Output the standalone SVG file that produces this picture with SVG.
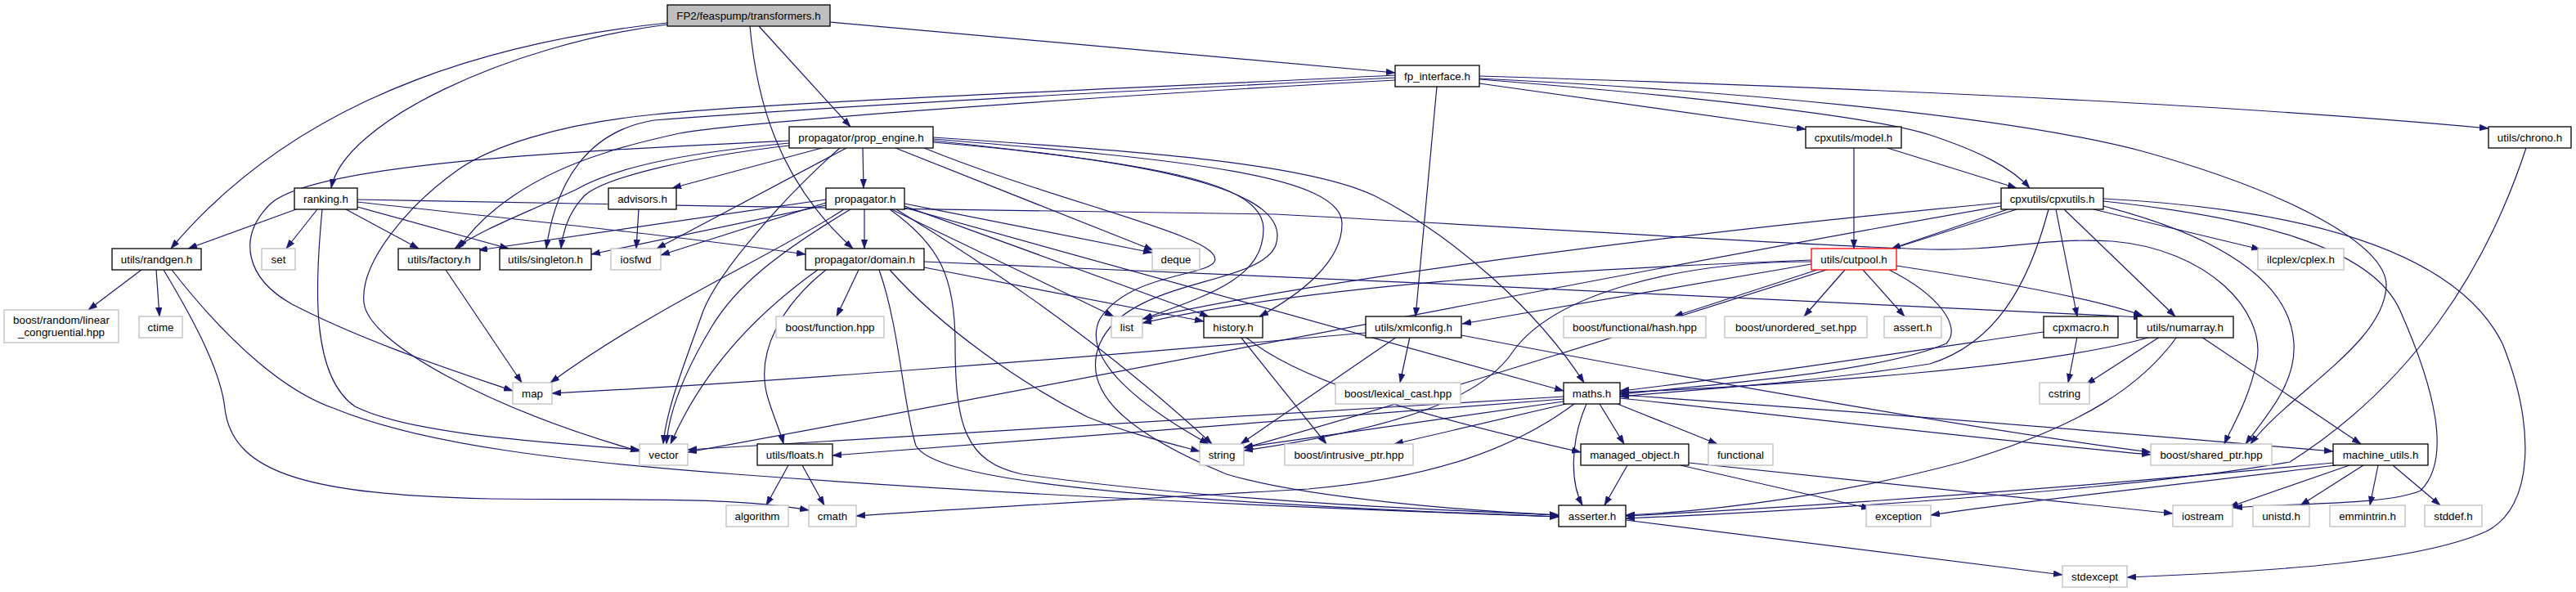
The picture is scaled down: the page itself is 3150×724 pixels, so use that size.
<svg xmlns="http://www.w3.org/2000/svg" width="3150" height="724" viewBox="0 0 3150 724">
<style>
.n rect{fill:#fff;stroke:#000;stroke-width:1.3}
.x rect{fill:#fff;stroke:#bfbfbf;stroke-width:1.3}
.n text,.x text{font-family:"Liberation Sans",Arial,sans-serif;font-size:13.33px;fill:#000;text-anchor:middle}
#edges path{fill:none;stroke:#191970;stroke-width:1.2;marker-end:url(#a)}
</style>
<defs>
<marker id="a" viewBox="0 0 10 7" refX="10" refY="3.5" markerWidth="11" markerHeight="8" markerUnits="userSpaceOnUse" orient="auto">
<path d="M0,0 L10,3.5 L0,7 z" fill="#191970" stroke="#191970" stroke-width="0.5"/>
</marker>
</defs>
<rect width="3150" height="724" fill="#fff"/>
<g id="edges">
<path d="M1015,27 L1706,89"/>
<path d="M928,32 L1040,155"/>
<path d="M917,32 C925,120 950,220 1043,304"/>
<path d="M816,30 C620,55 420,150 405,230"/>
<path d="M816,28 C520,60 330,160 209,304"/>
<path d="M1757,106 L1731,387"/>
<path d="M1809,102 L2208,158"/>
<path d="M1809,97 C2100,120 2300,145 2360,165 C2420,185 2460,205 2482,230"/>
<path d="M1809,93 C2200,105 2700,125 3043,157"/>
<path d="M1809,96 C2100,110 2450,140 2620,185 C2800,235 2920,300 2918,350 C2915,420 2800,480 2752,543"/>
<path d="M1706,92 C1300,112 950,125 800,140 C680,152 600,180 561,207 C500,250 440,320 445,370 C450,420 600,500 782,552"/>
<path d="M1706,95 C1300,115 950,135 800,147 C720,160 680,220 668,304"/>
<path d="M1706,98 C1300,120 900,150 831,163 C790,172 760,180 740,187 C650,215 590,260 561,304"/>
<path d="M1005,181 L822,230"/>
<path d="M1055,181 L1056,230"/>
<path d="M1035,181 L803,304"/>
<path d="M965,175 C860,185 760,200 704,232 C640,262 590,280 556,304"/>
<path d="M965,178 C860,190 740,215 714,240 C695,260 688,285 686,304"/>
<path d="M965,172 C700,185 380,200 330,250 C290,290 300,340 357,372 C450,420 560,455 627,478"/>
<path d="M1027,181 C960,240 880,330 860,380 C835,450 815,500 811,543"/>
<path d="M1095,181 L1410,306"/>
<path d="M1141,172 C1400,200 1545,220 1545,280 C1545,340 1480,360 1398,390"/>
<path d="M1141,170 C1450,195 1640,215 1641,273 C1642,320 1590,360 1540,387"/>
<path d="M1130,181 C1300,250 1500,290 1485,320 C1475,338 1380,335 1345,390 C1320,440 1400,500 1478,543"/>
<path d="M1141,168 C1400,185 1600,200 1682,240 C1780,290 1880,380 1937,468"/>
<path d="M1141,174 C1450,200 1580,240 1560,300 C1540,350 1380,340 1345,420 C1320,480 1380,530 1500,580 C1600,610 1800,625 1906,630"/>
<path d="M362,256 L230,304"/>
<path d="M388,256 L350,304"/>
<path d="M394,256 C385,350 380,460 434,497 C500,530 650,540 782,550"/>
<path d="M423,256 L512,304"/>
<path d="M437,253 L622,304"/>
<path d="M437,247 C600,265 800,285 985,311"/>
<path d="M437,244 C800,252 1300,258 1560,262 C1900,280 2200,300 2360,305 C2450,307 2500,290 2583,295 C2700,305 2770,380 2760,440 C2750,490 2730,520 2720,543"/>
<path d="M781,256 L778,304"/>
<path d="M1057,256 L1057,304"/>
<path d="M1010,248 L808,312"/>
<path d="M1010,244 L585,306"/>
<path d="M1010,251 L723,311"/>
<path d="M1032,256 C950,310 800,375 673,468"/>
<path d="M1040,256 C950,310 900,350 870,400 C840,450 818,500 815,543"/>
<path d="M1106,249 L1409,309"/>
<path d="M1106,252 L1478,387"/>
<path d="M1106,254 L1912,478"/>
<path d="M1090,256 L1362,387"/>
<path d="M1096,256 C1200,320 1350,420 1482,543"/>
<path d="M1088,256 C1150,300 1168,340 1168,420 C1168,520 1180,565 1250,580 C1500,615 1800,625 1906,630"/>
<path d="M1050,330 L1023,387"/>
<path d="M1010,330 C960,370 920,430 940,490 C948,515 955,530 958,543"/>
<path d="M1000,330 C930,380 860,450 820,543"/>
<path d="M1088,330 C1150,400 1250,470 1330,510 C1380,530 1430,542 1467,552"/>
<path d="M1075,330 C1100,400 1105,500 1120,545 C1140,580 1300,610 1906,632"/>
<path d="M1130,327 L1472,393"/>
<path d="M1130,320 C1600,340 2200,365 2620,388"/>
<path d="M173,330 L108,379"/>
<path d="M191,330 L195,387"/>
<path d="M200,330 C230,380 270,450 275,500 C285,580 380,605 600,610 C800,612 900,608 989,624"/>
<path d="M210,330 C280,420 350,480 410,500 C520,545 700,565 900,580 C1300,610 1700,625 1906,632"/>
<path d="M545,330 L638,468"/>
<path d="M1724,412 L1712,468"/>
<path d="M1670,407 C1300,440 900,470 675,481"/>
<path d="M1708,412 L1517,543"/>
<path d="M1787,410 C2100,470 2450,530 2630,553"/>
<path d="M2222,330 L2047,387"/>
<path d="M2256,330 L2206,387"/>
<path d="M2278,330 L2329,387"/>
<path d="M2215,323 L1788,396"/>
<path d="M2215,318 C1900,330 1600,350 1397,395"/>
<path d="M2215,320 C2050,320 1900,360 1850,430 C1810,490 1700,525 1521,551"/>
<path d="M2319,325 C2450,345 2560,365 2620,386"/>
<path d="M2310,330 C2370,360 2400,400 2380,420 C2300,455 2100,470 1981,482"/>
<path d="M2267,181 L2267,304"/>
<path d="M2308,181 L2466,230"/>
<path d="M2455,256 L2313,304"/>
<path d="M2514,256 L2540,387"/>
<path d="M2524,256 L2660,387"/>
<path d="M2560,256 L2764,305"/>
<path d="M2572,252 C2680,280 2800,330 2805,420 C2808,470 2770,510 2746,543"/>
<path d="M2572,246 C2750,265 2900,300 2935,380 C2975,470 3000,560 2960,600 C2920,618 2800,615 2731,621"/>
<path d="M2572,243 C2800,255 3000,300 3060,420 C3100,520 3100,620 3040,650 C2950,690 2750,700 2601,706"/>
<path d="M2447,248 C2000,290 1600,345 1397,390"/>
<path d="M2447,252 C2000,330 1300,470 841,553"/>
<path d="M2466,256 C2200,340 1800,470 1521,548"/>
<path d="M2505,256 C2480,350 2440,420 2360,445 C2200,470 2050,478 1981,485"/>
<path d="M2540,412 L2529,468"/>
<path d="M2499,406 C2300,435 2100,465 1981,478"/>
<path d="M2641,412 L2551,470"/>
<path d="M2630,412 C2500,450 2200,470 1981,480"/>
<path d="M2662,412 C2620,470 2550,520 2400,565 C2250,605 2100,625 1988,630"/>
<path d="M2692,412 L2887,543"/>
<path d="M1912,485 C1500,510 1100,535 841,550"/>
<path d="M1912,488 C1500,520 1200,545 1018,557"/>
<path d="M1912,491 L1521,547"/>
<path d="M1915,494 L1705,543"/>
<path d="M1925,494 C1850,550 1750,585 1600,598 C1400,610 1200,620 1047,631"/>
<path d="M1940,494 C1920,540 1920,590 1935,618"/>
<path d="M1956,494 L1986,543"/>
<path d="M1978,494 L2100,543"/>
<path d="M1981,487 C2200,510 2450,540 2630,556"/>
<path d="M1981,483 C2300,505 2600,530 2853,552"/>
<path d="M1517,412 L1622,543"/>
<path d="M1523,412 C1580,460 1700,500 1933,553"/>
<path d="M1990,569 L1962,618"/>
<path d="M2055,569 L2287,622"/>
<path d="M2065,566 L2657,628"/>
<path d="M2853,566 C2500,600 2200,620 1988,631"/>
<path d="M2856,569 C2650,595 2450,615 2361,630"/>
<path d="M2873,569 L2726,620"/>
<path d="M2890,569 L2813,618"/>
<path d="M2908,569 L2898,618"/>
<path d="M2926,569 L2984,618"/>
<path d="M3089,181 C3040,330 2950,470 2800,565 C2600,600 2200,625 1988,634"/>
<path d="M964,569 L937,618"/>
<path d="M981,569 L1008,618"/>
<path d="M1988,636 L2522,703"/>
</g>
<g id="n_transformers" class="n"><rect x="816" y="6" width="199" height="26" style="fill:#bfbfbf"/><text x="915.5" y="23.5">FP2/feaspump/transformers.h</text></g>
<g id="n_fp_interface" class="n"><rect x="1706" y="80" width="103" height="26"/><text x="1757.5" y="97.5">fp_interface.h</text></g>
<g id="n_prop_engine" class="n"><rect x="965" y="155" width="176" height="26"/><text x="1053" y="172.5">propagator/prop_engine.h</text></g>
<g id="n_model" class="n"><rect x="2208" y="155" width="117" height="26"/><text x="2266.5" y="172.5">cpxutils/model.h</text></g>
<g id="n_chrono" class="n"><rect x="3043" y="155" width="101" height="26"/><text x="3093.5" y="172.5">utils/chrono.h</text></g>
<g id="n_ranking" class="n"><rect x="360" y="230" width="77" height="26"/><text x="398.5" y="247.5">ranking.h</text></g>
<g id="n_advisors" class="n"><rect x="744" y="230" width="83" height="26"/><text x="785.5" y="247.5">advisors.h</text></g>
<g id="n_propagator" class="n"><rect x="1010" y="230" width="96" height="26"/><text x="1058" y="247.5">propagator.h</text></g>
<g id="n_cpxutils" class="n"><rect x="2447" y="230" width="125" height="26"/><text x="2509.5" y="247.5">cpxutils/cpxutils.h</text></g>
<g id="n_randgen" class="n"><rect x="137" y="304" width="109" height="26"/><text x="191.5" y="321.5">utils/randgen.h</text></g>
<g id="n_set" class="x"><rect x="320" y="304" width="41" height="26"/><text x="340.5" y="321.5">set</text></g>
<g id="n_factory" class="n"><rect x="487" y="304" width="100" height="26"/><text x="537" y="321.5">utils/factory.h</text></g>
<g id="n_singleton" class="n"><rect x="611" y="304" width="112" height="26"/><text x="667" y="321.5">utils/singleton.h</text></g>
<g id="n_iosfwd" class="x"><rect x="747" y="304" width="61" height="26"/><text x="777.5" y="321.5">iosfwd</text></g>
<g id="n_domain" class="n"><rect x="985" y="304" width="145" height="26"/><text x="1057.5" y="321.5">propagator/domain.h</text></g>
<g id="n_deque" class="x"><rect x="1409" y="304" width="58" height="26"/><text x="1438" y="321.5">deque</text></g>
<g id="n_cutpool" class="n"><rect x="2215" y="304" width="104" height="26" style="stroke:#ff0000"/><text x="2267" y="321.5">utils/cutpool.h</text></g>
<g id="n_ilcplex" class="x"><rect x="2761" y="304" width="105" height="26"/><text x="2813.5" y="321.5">ilcplex/cplex.h</text></g>
<g id="n_brandom" class="x"><rect x="5" y="379" width="140" height="40"/><text x="75" y="395.5">boost/random/linear</text><text x="75" y="411">_congruential.hpp</text></g>
<g id="n_ctime" class="x"><rect x="170" y="387" width="53" height="26"/><text x="196.5" y="404.5">ctime</text></g>
<g id="n_function" class="x"><rect x="949" y="387" width="132" height="26"/><text x="1015" y="404.5">boost/function.hpp</text></g>
<g id="n_list" class="x"><rect x="1359" y="387" width="38" height="26"/><text x="1378" y="404.5">list</text></g>
<g id="n_history" class="n"><rect x="1472" y="387" width="72" height="26"/><text x="1508" y="404.5">history.h</text></g>
<g id="n_xmlconfig" class="n"><rect x="1670" y="387" width="117" height="26"/><text x="1728.5" y="404.5">utils/xmlconfig.h</text></g>
<g id="n_hash" class="x"><rect x="1912" y="387" width="174" height="26"/><text x="1999" y="404.5">boost/functional/hash.hpp</text></g>
<g id="n_unordered" class="x"><rect x="2109" y="387" width="174" height="26"/><text x="2196" y="404.5">boost/unordered_set.hpp</text></g>
<g id="n_assert" class="x"><rect x="2304" y="387" width="70" height="26"/><text x="2339" y="404.5">assert.h</text></g>
<g id="n_cpxmacro" class="n"><rect x="2499" y="387" width="91" height="26"/><text x="2544.5" y="404.5">cpxmacro.h</text></g>
<g id="n_numarray" class="n"><rect x="2613" y="387" width="118" height="26"/><text x="2672" y="404.5">utils/numarray.h</text></g>
<g id="n_map" class="x"><rect x="627" y="468" width="48" height="26"/><text x="651" y="485.5">map</text></g>
<g id="n_lexical" class="x"><rect x="1633" y="468" width="153" height="26"/><text x="1709.5" y="485.5">boost/lexical_cast.hpp</text></g>
<g id="n_maths" class="n"><rect x="1912" y="468" width="69" height="26"/><text x="1946.5" y="485.5">maths.h</text></g>
<g id="n_cstring" class="x"><rect x="2494" y="468" width="61" height="26"/><text x="2524.5" y="485.5">cstring</text></g>
<g id="n_vector" class="x"><rect x="782" y="543" width="59" height="26"/><text x="811.5" y="560.5">vector</text></g>
<g id="n_floats" class="n"><rect x="926" y="543" width="92" height="26"/><text x="972" y="560.5">utils/floats.h</text></g>
<g id="n_string" class="x"><rect x="1467" y="543" width="54" height="26"/><text x="1494" y="560.5">string</text></g>
<g id="n_intrusive" class="x"><rect x="1571" y="543" width="157" height="26"/><text x="1649.5" y="560.5">boost/intrusive_ptr.hpp</text></g>
<g id="n_managed" class="n"><rect x="1933" y="543" width="132" height="26"/><text x="1999" y="560.5">managed_object.h</text></g>
<g id="n_functional" class="x"><rect x="2089" y="543" width="79" height="26"/><text x="2128.5" y="560.5">functional</text></g>
<g id="n_shared" class="x"><rect x="2630" y="543" width="148" height="26"/><text x="2704" y="560.5">boost/shared_ptr.hpp</text></g>
<g id="n_machine" class="n"><rect x="2853" y="543" width="116" height="26"/><text x="2911" y="560.5">machine_utils.h</text></g>
<g id="n_algorithm" class="x"><rect x="888" y="618" width="76" height="26"/><text x="926" y="635.5">algorithm</text></g>
<g id="n_cmath" class="x"><rect x="989" y="618" width="58" height="26"/><text x="1018" y="635.5">cmath</text></g>
<g id="n_asserter" class="n"><rect x="1906" y="618" width="82" height="26"/><text x="1947" y="635.5">asserter.h</text></g>
<g id="n_exception" class="x"><rect x="2282" y="618" width="79" height="26"/><text x="2321.5" y="635.5">exception</text></g>
<g id="n_iostream" class="x"><rect x="2657" y="618" width="73" height="26"/><text x="2693.5" y="635.5">iostream</text></g>
<g id="n_unistd" class="x"><rect x="2755" y="618" width="69" height="26"/><text x="2789.5" y="635.5">unistd.h</text></g>
<g id="n_emmintrin" class="x"><rect x="2849" y="618" width="92" height="26"/><text x="2895" y="635.5">emmintrin.h</text></g>
<g id="n_stddef" class="x"><rect x="2965" y="618" width="70" height="26"/><text x="3000" y="635.5">stddef.h</text></g>
<g id="n_stdexcept" class="x"><rect x="2522" y="692" width="79" height="26"/><text x="2561.5" y="709.5">stdexcept</text></g>
</svg>
